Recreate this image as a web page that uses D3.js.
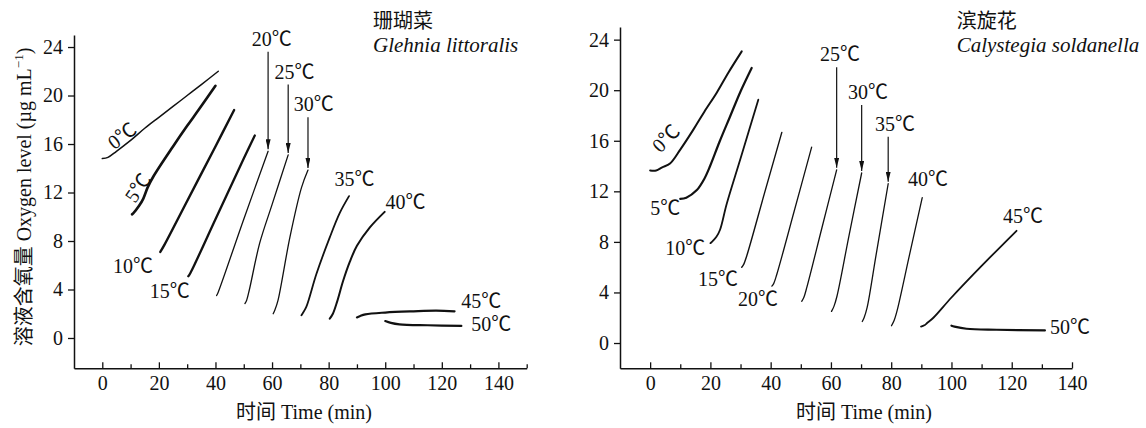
<!DOCTYPE html>
<html>
<head>
<meta charset="utf-8">
<script src="https://cdn.jsdelivr.net/npm/d3@7"></script>
<style>
	body { margin: 0; background: #fff; }
	svg text { font-family: 'Liberation Serif', 'Times New Roman', 'Noto Sans CJK SC', serif; fill: #111; }
</style>
</head>
<body>
<script>
// temperatures of the runs, one curve each
const temps = [0, 5, 10, 15, 20, 25, 30, 35, 40, 45, 50]

// axis ticks
const xMajor = [0, 20, 40, 60, 80, 100, 120, 140]
const xMinorLeft = [10, 30, 50, 70, 90, 110, 130, 150]
const xMinorRight = [10, 30, 50, 70, 90, 110, 130]
const yTicks = [0, 4, 8, 12, 16, 20, 24]

// 珊瑚菜 Glehnia littoralis : [time (min), oxygen (µg/mL)]
const glehnia0 = [[0, 14.8], [2, 14.9], [5, 15.4], [10, 16.3], [15, 17.3], [20, 18.2], [25, 19.1], [30, 20.0], [35, 20.9], [41, 22.0]]
const glehnia5 = [[10.5, 10.2], [11, 10.3], [13, 10.9], [14.5, 11.5], [16, 12.4], [18, 13.3], [25, 15.8], [30, 17.5], [34, 18.8], [40, 20.8]]
const glehnia10 = [[20.5, 7.1], [22, 7.7], [30, 11.3], [40, 15.8], [46.6, 18.8]]
const glehnia15 = [[30.4, 5.1], [31, 5.3], [40, 9.8], [50, 14.8], [53.9, 16.7]]
const glehnia20 = [[40.4, 3.5], [41, 3.8], [50, 9.8], [58.6, 15.4]]
const glehnia25 = [[50.4, 2.84], [51, 3.1], [52, 4.0], [55.6, 7.8], [60, 11.0], [65.7, 15.1]]
const glehnia30 = [[60.4, 2.0], [61, 2.3], [62.1, 3.1], [66.3, 8.3], [70.4, 12.4], [72.7, 13.85]]
const glehnia35 = [[70.4, 1.87], [71, 2.1], [72.1, 2.56], [75.7, 5.3], [80.4, 8.3], [83.9, 10.3], [87.2, 11.7]]
const glehnia40 = [[80.4, 1.6], [81.5, 2.0], [83, 3.0], [85.1, 4.7], [87.5, 6.3], [90, 7.6], [94.5, 9.1], [99.8, 10.4]]
const glehnia45 = [[90, 1.7], [91, 1.8], [93, 1.95], [100, 2.1], [110, 2.2], [118, 2.25], [124.5, 2.2]]
const glehnia50 = [[100, 1.4], [102, 1.25], [105, 1.13], [115, 1.05], [126.9, 1.0]]

// 滨旋花 Calystegia soldanella
const calystegia0 = [[0, 13.65], [2, 13.65], [4, 13.9], [6.6, 14.2], [10, 15.3], [14.4, 16.9], [18, 18.3], [22.1, 19.8], [26, 21.4], [30.4, 23.07]]
const calystegia5 = [[10, 11.4], [12, 11.5], [15.5, 12.1], [18, 13.0], [19.9, 14.0], [23, 15.9], [26.5, 17.9], [30, 19.9], [33.7, 21.76]]
const calystegia10 = [[20, 7.9], [20.5, 8.0], [22, 8.4], [23.2, 8.96], [25.4, 11.0], [30, 14.6], [35.9, 19.25]]
const calystegia15 = [[30.4, 6.0], [31, 6.2], [32, 6.85], [38, 11.9], [43.7, 16.66]]
const calystegia20 = [[40.4, 4.5], [41, 4.7], [42, 5.4], [48, 10.6], [53.6, 15.5]]
const calystegia25 = [[50.3, 3.3], [51, 3.6], [52, 4.4], [57, 9.1], [61.9, 13.7]]
const calystegia30 = [[60.2, 2.5], [61, 2.9], [62, 3.7], [66, 8.5], [70.2, 13.45]]
const calystegia35 = [[70.4, 1.7], [71, 2.0], [72, 2.8], [75, 7.0], [79, 12.6]]
const calystegia40 = [[80.1, 1.37], [81, 1.8], [82, 2.6], [86, 6.9], [90.3, 11.5]]
const calystegia45 = [[89.9, 1.3], [91, 1.4], [92, 1.6], [94, 2.0], [100, 3.6], [110, 6.1], [121.6, 8.88]]
const calystegia50 = [[100, 1.37], [101, 1.3], [105, 1.13], [115, 1.05], [131, 1.0]]

const width = 1146
const height = 428

const svg = d3.select('body').append('svg').attr('width', width).attr('height', height)

svg.append('defs').append('marker')
	.attr('id', 'arrow')
	.attr('viewBox', '0 0 10 5')
	.attr('refX', 10)
	.attr('refY', 2.5)
	.attr('markerWidth', 10)
	.attr('markerHeight', 5)
	.attr('markerUnits', 'userSpaceOnUse')
	.attr('orient', 'auto')
	.append('path')
	.attr('d', 'M0,0 L10,2.5 L0,5 Z')
	.attr('fill', '#111')

// label placement in data units: [t, v, rotation]
const glehniaLabels = [[7.0, 16.7, -37], [12.6, 12.4, -55], [3.8, 5.4], [16.8, 3.3], [52.8, 24.1], [60.9, 21.4], [67.7, 18.7], [82.1, 12.5], [100.1, 10.6], [126.9, 2.45], [130.4, 0.55]]
const calystegiaLabels = [[5.2, 16.2, -45], [0, 10.1], [5, 7.0], [15.9, 4.5], [29.2, 2.95], [56.4, 22.3], [65.7, 19.3], [74.6, 16.8], [85.6, 12.4], [117.1, 9.5], [132.7, 0.74]]

drawPanel({
	curves: [glehnia0, glehnia5, glehnia10, glehnia15, glehnia20, glehnia25, glehnia30, glehnia35, glehnia40, glehnia45, glehnia50],
	labels: glehniaLabels,
	widths: [1.5, 2.6, 2.4, 2.3, 1.3, 1.3, 1.3, 1.8, 2, 2.2, 2.2],
	arrows: [20, 25, 30],
	xDomain: [-10, 150],
	xRange: [74, 526.7],
	yDomain: [-2.5, 25],
	yRange: [368.3, 34.9],
	minor: xMinorLeft,
	title: ['珊瑚菜', 'Glehnia littoralis'],
	titleX: 373,
	yTitle: true,
})

drawPanel({
	curves: [calystegia0, calystegia5, calystegia10, calystegia15, calystegia20, calystegia25, calystegia30, calystegia35, calystegia40, calystegia45, calystegia50],
	labels: calystegiaLabels,
	widths: [2, 2.2, 1.8, 1.4, 1.3, 1.3, 1.3, 1.3, 1.3, 1.8, 2.2],
	arrows: [25, 30, 35],
	xDomain: [-10, 140],
	xRange: [620, 1072],
	yDomain: [-2, 25],
	yRange: [368.3, 27.0],
	minor: xMinorRight,
	title: ['滨旋花', 'Calystegia soldanella'],
	titleX: 956.7,
	yTitle: false,
})

function drawPanel(cfg) {
	const x = d3.scaleLinear().domain(cfg.xDomain).range(cfg.xRange)
	const y = d3.scaleLinear().domain(cfg.yDomain).range(cfg.yRange)

	// bottom axis, ticks pointing inward
	const gx = svg.append('g').attr('transform', `translate(0,${cfg.yRange[0]})`)
	gx.call(d3.axisBottom(x).tickValues(xMajor).tickSizeInner(-6).tickSizeOuter(0).tickPadding(8))
	gx.append('g').call(d3.axisBottom(x).tickValues(cfg.minor).tickSizeInner(-4).tickSizeOuter(0).tickFormat(''))
		.select('.domain').remove()

	// left axis, ticks pointing outward
	const gy = svg.append('g').attr('transform', `translate(${cfg.xRange[0]},0)`)
	gy.call(d3.axisLeft(y).tickValues(yTicks).tickSizeInner(6).tickSizeOuter(0).tickPadding(5))

	svg.selectAll('.domain').attr('stroke', '#111').attr('stroke-width', 1.5)
	svg.selectAll('.tick line').attr('stroke', '#111').attr('stroke-width', 1.3)
	svg.selectAll('.tick text').attr('font-size', 20).attr('fill', '#111')
		.style('font-family', "'Liberation Serif', 'Times New Roman', serif")

	// curves
	const line = d3.line()
		.x(function (d) { return x(d[0]) })
		.y(function (d) { return y(d[1]) })
		.curve(d3.curveCatmullRom.alpha(0.5))

	svg.append('g').selectAll('path')
		.data(cfg.curves)
		.enter()
		.append('path')
		.attr('d', line)
		.attr('fill', 'none')
		.attr('stroke', '#111')
		.attr('stroke-width', function (d, i) { return cfg.widths[i] })
		.attr('stroke-linejoin', 'round')
		.attr('stroke-linecap', 'round')

	// temperature labels
	cfg.labels.forEach(function (p, i) {
		const t = svg.append('text')
			.attr('font-size', 20)
			.text(temps[i] + '℃')
		if (p[2] !== undefined) {
			t.attr('text-anchor', 'middle')
				.attr('dominant-baseline', 'central')
				.attr('transform', `translate(${x(p[0])},${y(p[1])}) rotate(${p[2]})`)
		} else {
			t.attr('x', x(p[0])).attr('y', y(p[1]))
		}
	})

	// arrows from the labels down to the curve ends
	cfg.arrows.forEach(function (temp) {
		const i = temps.indexOf(temp)
		const end = cfg.curves[i][cfg.curves[i].length - 1]
		svg.append('line')
			.attr('x1', x(end[0]))
			.attr('x2', x(end[0]))
			.attr('y1', y(cfg.labels[i][1]) + 6)
			.attr('y2', y(end[1]) - 2)
			.attr('stroke', '#111')
			.attr('stroke-width', 1.2)
			.attr('marker-end', 'url(#arrow)')
	})

	// species name
	svg.append('text').attr('x', cfg.titleX).attr('y', 28).attr('font-size', 20).text(cfg.title[0])
	svg.append('text').attr('x', cfg.titleX).attr('y', 52).attr('font-size', 21)
		.attr('font-style', 'italic').text(cfg.title[1])

	// axis titles
	svg.append('text')
		.attr('x', cfg.yTitle ? 304 : 864)
		.attr('y', 419)
		.attr('text-anchor', 'middle')
		.attr('font-size', 20)
		.text('时间 Time (min)')

	if (cfg.yTitle) {
		const yt = svg.append('text')
			.attr('text-anchor', 'middle')
			.attr('font-size', 20)
			.attr('transform', 'translate(31,197) rotate(-90)')
		yt.append('tspan').text('溶液含氧量 Oxygen level (µg mL')
		yt.append('tspan').attr('font-size', 13).attr('dy', -8).text('−1')
		yt.append('tspan').attr('dy', 8).text(')')
	}
}
</script>
</body>
</html>
